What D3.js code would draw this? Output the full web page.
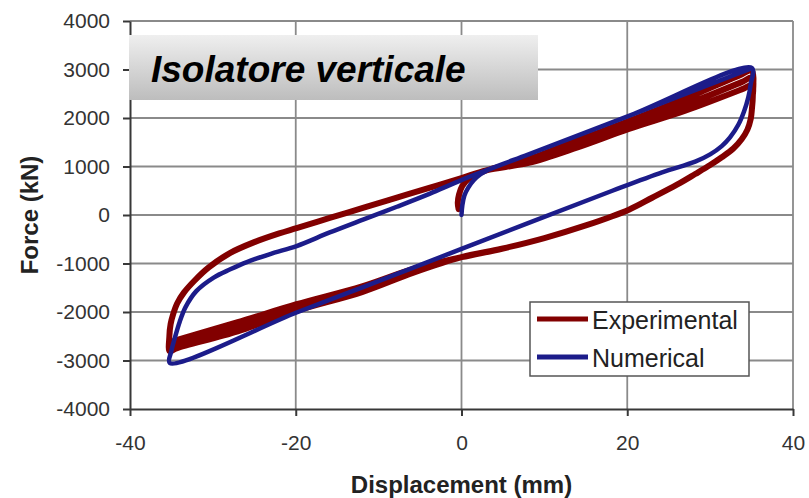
<!DOCTYPE html>
<html>
<head>
<meta charset="utf-8">
<script src="https://cdn.jsdelivr.net/npm/d3@7"></script>
<style>
  html, body { margin: 0; padding: 0; background: #ffffff; }
  svg { display: block; font-family: "Liberation Sans", Arial, sans-serif; }
</style>
</head>
<body>
<svg id="chart" width="809" height="498"></svg>
<script>
// Axis ticks
const xTicks = [-40, -20, 0, 20, 40];
const yTicks = [-4000, -3000, -2000, -1000, 0, 1000, 2000, 3000, 4000];

// Experimental loop, split into branches [displacement mm, force kN]
const expVirgin = [[-0.35, 120], [-0.45, 250], [-0.3, 420], [0.1, 600], [0.8, 740], [1.6, 820], [3.0, 920]];
// rising branch toward +35 mm, one per cycle
const expUpper1 = [[8.1, 1150], [14, 1540], [20.2, 1935], [27, 2400], [33.8, 2900], [35.0, 2980]];
const expUpper2 = [[8.1, 1110], [14, 1460], [20.2, 1850], [27, 2270], [33.8, 2740], [35.05, 2830]];
const expUpper3 = [[8.1, 1075], [14, 1395], [20.2, 1775], [27, 2150], [33.8, 2590], [35.1, 2680]];
// unloading from +35 mm down to zero displacement
const expUnload = [[35.15, 2450], [35.05, 2200], [34.9, 1980], [34.5, 1760], [33.8, 1560], [32.8, 1370],
  [31.4, 1190], [30.0, 1030], [28.2, 845], [26.0, 625], [23.0, 355], [20.2, 110], [15.0, -215],
  [10.0, -475], [5.0, -690], [0.0, -870]];
// falling branch toward -35 mm, one per cycle
const expLower1 = [[-5.8, -1110], [-12, -1470], [-19.9, -1840], [-27, -2210], [-34.4, -2580], [-35.2, -2620]];
const expLower2 = [[-5.8, -1150], [-12, -1530], [-19.9, -1910], [-27, -2310], [-34.4, -2665], [-35.2, -2720]];
const expLower3 = [[-5.8, -1190], [-12, -1590], [-19.9, -1975], [-27, -2400], [-34.4, -2750], [-35.2, -2810]];
// reloading from -35 mm back through zero
const expReload = [[-35.25, -2500], [-35.1, -2250], [-34.8, -2050], [-34.3, -1820], [-33.5, -1600],
  [-32.2, -1350], [-30.5, -1080], [-28, -790], [-25, -560], [-22, -380], [-19.9, -270], [-15.9, -60],
  [-11.8, 150], [-7.8, 360], [-3.8, 565], [0, 760], [3.0, 920]];

// Numerical loop [displacement mm, force kN]
const numLoop = [[0, 0], [0.1, 200], [0.35, 400], [0.8, 560], [1.5, 720], [2.3, 840], [3.2, 930],
  [4.5, 1020], [8.1, 1251], [20.2, 2043], [35.05, 3030], [34.9, 2700], [34.6, 2420], [34.1, 2140],
  [33.4, 1860], [32.4, 1600], [31.4, 1420], [30.0, 1250], [28.2, 1100], [24.2, 880], [18.2, 500],
  [0, -700], [-11.8, -1480], [-19.9, -2010], [-35.2, -3050], [-35.0, -2800], [-34.6, -2540],
  [-34.0, -2200], [-33.3, -1900], [-32.0, -1570], [-29.9, -1290], [-27.9, -1120], [-25.9, -970],
  [-23, -800], [-19.9, -640], [-15.9, -360], [-11.8, -90], [-7.8, 170], [-3.8, 440], [0, 720],
  [8.1, 1251], [20.2, 2043], [35.05, 3030]];

const seriesNames = ["Experimental", "Numerical"];
const seriesColors = ["#820000", "#1c1c8a"];

// Full experimental history: three cycles sharing the unload/reload branches
const expLoop = [].concat(
  expVirgin, expUpper1, expUnload, expLower1, expReload,
  expUpper2, expUnload, expLower2, expReload,
  expUpper3, expUnload, expLower3, expReload
);

const svg = d3.select("#chart");
const x = d3.scaleLinear().domain([-40, 40]).range([130, 793]);
const y = d3.scaleLinear().domain([-4000, 4000]).range([409, 21]);

// Gridlines
const grid = svg.append("g");
grid.selectAll("line.h").data(yTicks.filter(d => d !== -4000)).join("line")
  .attr("x1", x(-40)).attr("x2", x(40))
  .attr("y1", d => y(d)).attr("y2", d => y(d))
  .attr("stroke", "#8a8a8a").attr("stroke-width", 1.8);
grid.selectAll("line.v").data(xTicks.filter(d => d !== -40)).join("line")
  .attr("y1", y(-4000)).attr("y2", y(4000))
  .attr("x1", d => x(d)).attr("x2", d => x(d))
  .attr("stroke", "#8a8a8a").attr("stroke-width", 1.8);

// Axes (plain integers, hyphen-minus)
const plain = d => String(d);
const xAxis = svg.append("g").attr("transform", `translate(0,${y(-4000)})`)
  .call(d3.axisBottom(x).tickValues(xTicks).tickFormat(plain).tickSize(7).tickPadding(19).tickSizeOuter(0));
const yAxis = svg.append("g").attr("transform", `translate(${x(-40)},0)`)
  .call(d3.axisLeft(y).tickValues(yTicks).tickFormat(plain).tickSize(7).tickPadding(13).tickSizeOuter(0));
[xAxis, yAxis].forEach(g => {
  g.select(".domain").attr("stroke", "#383838").attr("stroke-width", 2);
  g.selectAll(".tick line").attr("stroke", "#383838").attr("stroke-width", 2);
  g.selectAll(".tick text").attr("fill", "#333").attr("font-size", 21)
    .attr("font-family", "Liberation Sans, Arial, sans-serif");
});

// Axis titles
svg.append("text").attr("x", x(0)).attr("y", 493).attr("text-anchor", "middle")
  .attr("font-size", 24).attr("font-weight", "bold").attr("fill", "#222")
  .text("Displacement (mm)");
svg.append("text").attr("transform", "translate(38,215) rotate(-90)").attr("text-anchor", "middle")
  .attr("font-size", 24).attr("font-weight", "bold").attr("fill", "#222")
  .text("Force (kN)");

// Title box
const defs = svg.append("defs");
const grad = defs.append("linearGradient").attr("id", "titleFill")
  .attr("x1", 0).attr("y1", 0).attr("x2", 0).attr("y2", 1);
grad.append("stop").attr("offset", "0%").attr("stop-color", "#efefef");
grad.append("stop").attr("offset", "100%").attr("stop-color", "#bdbdbd");
svg.append("rect").attr("x", 129).attr("y", 35).attr("width", 409).attr("height", 65)
  .attr("fill", "url(#titleFill)");
svg.append("text").attr("x", 151).attr("y", 82)
  .attr("font-size", 37).attr("font-weight", "bold").attr("font-style", "italic").attr("fill", "#000")
  .text("Isolatore verticale");

// Curves
const line = d3.line().x(d => x(d[0])).y(d => y(d[1])).curve(d3.curveCatmullRom.alpha(0.5));
svg.append("path").datum(expLoop).attr("d", line)
  .attr("fill", "none").attr("stroke", seriesColors[0]).attr("stroke-width", 6)
  .attr("stroke-linejoin", "round").attr("stroke-linecap", "round");
svg.append("path").datum(numLoop).attr("d", line)
  .attr("fill", "none").attr("stroke", seriesColors[1]).attr("stroke-width", 4.5)
  .attr("stroke-linejoin", "round").attr("stroke-linecap", "round");

// Legend
const legend = svg.append("g");
legend.append("rect").attr("x", 530).attr("y", 302).attr("width", 219).attr("height", 74)
  .attr("fill", "#fff").attr("stroke", "#555").attr("stroke-width", 1.5);
const legendRows = [319, 357];
seriesNames.forEach((name, i) => {
  legend.append("line").attr("x1", 537).attr("x2", 588)
    .attr("y1", legendRows[i]).attr("y2", legendRows[i])
    .attr("stroke", seriesColors[i]).attr("stroke-width", 5);
  legend.append("text").attr("x", 592).attr("y", legendRows[i] + 10)
    .attr("font-size", 25).attr("fill", "#222").text(name);
});
</script>
</body>
</html>
